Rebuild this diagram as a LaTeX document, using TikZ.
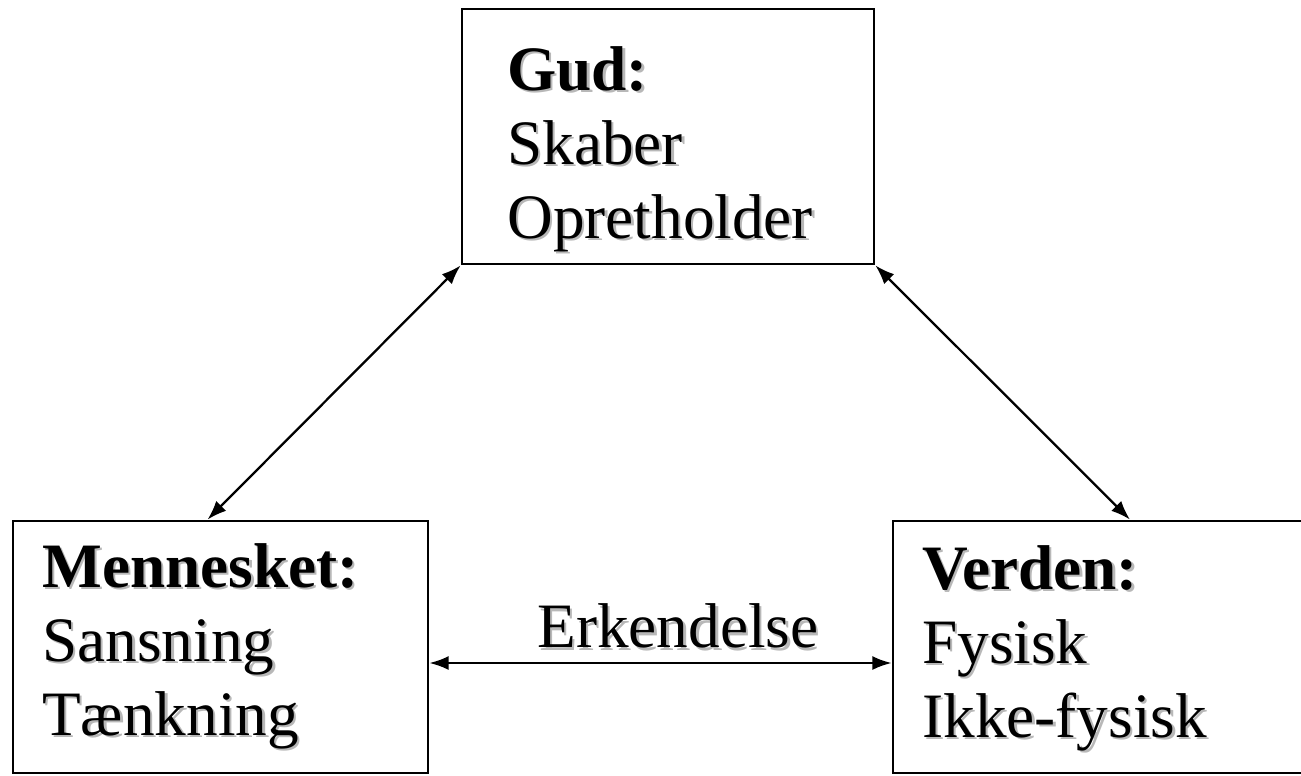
\documentclass[tikz,border=0pt]{standalone}
\usepackage{fontspec}
\setmainfont{Liberation Serif}
\usetikzlibrary{arrows.meta,calc}
\definecolor{shadowgray}{gray}{0.72}
\newcommand\shd[1]{\rlap{\kern1.4pt\raisebox{-1.4pt}{\textcolor{shadowgray}{#1}}}#1}

\begin{document}
\begin{tikzpicture}[
                        x=0.02cm, y=-0.02cm,
                        >={Latex[length=11pt,width=8pt]},
                        box/.style={rectangle, draw, line width=1.6pt, inner sep=0pt},
                        txt/.style={align=left, inner sep=0pt, anchor=base west, font=\fontsize{36pt}{42pt}\selectfont}
                    ]
                    \useasboundingbox (0,0) rectangle (1301,775);
                    % Blocks
                    \node [box, minimum width=8.24cm, minimum height=5.1cm] (gud) at (668,136.5) {};
                    \node [box, minimum width=8.3cm, minimum height=5.04cm] (men) at (220.5,647) {};
                    \node [box, minimum width=8.24cm, minimum height=5.04cm] (ver) at (1099,647) {};

                    % Texts (base = last line)
                    \node [txt] (gudtxt) at (507,238) {\shd{\textbf{Gud:}}\\\shd{Skaber}\\\shd{Opretholder}};
                    \node [txt] (mentxt) at (42,735) {\shd{\textbf{Mennesket:}}\\\shd{Sansning}\\\shd{Tænkning}};
                    \node [txt] (vertxt) at (922,737) {\shd{\textbf{Verden:}}\\\shd{Fysisk}\\\shd{Ikke-fysisk}};

                    % Connections
                    \draw [<->, line width=1.3pt] (gud.south west) -- ($(men.north)+(-13,0)$);
                    \draw [<->, line width=1.3pt] (gud.south east) -- ($(ver.north)+(31,0)$);
                    \draw [<->, line width=1.3pt] ($(men.east)+(0,16)$) --node[above=0.22cm, xshift=0.35cm, inner sep=0pt, font=\fontsize{36pt}{42pt}\selectfont]{\shd{Erkendelse}} ($(ver.west)+(0,16)$);
                \end{tikzpicture}
\end{document}
